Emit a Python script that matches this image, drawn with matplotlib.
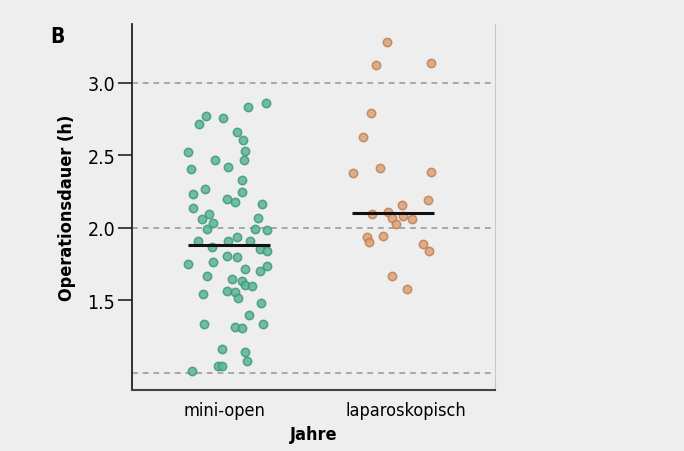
import numpy as np
import matplotlib.pyplot as plt

# condensed face, close to the narrow font of the original
plt.rcParams['font.family'] = ['DejaVu Sans']
plt.rcParams['font.stretch'] = 'condensed'

categories = ["mini-open", "laparoskopisch"]

# Operationsdauer (h)
mini_open = [2.862, 2.834, 2.772, 2.759, 2.717, 2.662, 2.607, 2.524, 2.531, 2.469,
             2.469, 2.421, 2.407, 2.331, 2.269, 2.234, 2.248, 2.200, 2.179, 2.166,
             2.138, 2.097, 2.069, 2.062, 2.034, 1.993, 1.993, 1.986, 1.910, 1.869,
             1.910, 1.938, 1.910, 1.855, 1.841, 1.807, 1.800, 1.752, 1.766, 1.717,
             1.738, 1.703, 1.669, 1.648, 1.634, 1.607, 1.600, 1.545, 1.566, 1.559,
             1.517, 1.483, 1.400, 1.338, 1.338, 1.317, 1.310, 1.166, 1.145, 1.083,
             1.048, 1.048, 1.014]
mini_open_jitter = [0.231, 0.132, -0.099, -0.005, -0.137, 0.071, 0.104, -0.198, 0.115, -0.049,
                    0.110, 0.022, -0.181, 0.099, -0.104, -0.170, 0.099, 0.016, 0.060, 0.209,
                    -0.170, -0.082, 0.187, -0.121, -0.060, -0.093, 0.170, 0.236, -0.143, -0.066,
                    0.022, 0.071, 0.143, 0.198, 0.236, 0.016, 0.071, -0.198, -0.060, 0.115,
                    0.236, 0.198, -0.093, 0.044, 0.099, 0.115, 0.154, -0.115, 0.016, 0.060,
                    0.077, 0.203, 0.137, -0.110, 0.214, 0.060, 0.099, -0.011, 0.115, 0.126,
                    -0.033, -0.011, -0.176]

laparo = [3.283, 3.124, 3.138, 2.793, 2.628, 2.379, 2.414, 2.386, 2.193, 2.159,
          2.097, 2.110, 2.069, 2.028, 2.083, 2.062, 1.938, 1.903, 1.945, 1.890,
          1.841, 1.669, 1.579]
laparo_jitter = [-0.104, -0.165, 0.137, -0.192, -0.236, -0.291, -0.143, 0.137, 0.121, -0.022,
                 -0.187, -0.099, -0.077, -0.055, -0.016, 0.033, -0.214, -0.203, -0.126, 0.093,
                 0.126, -0.077, 0.005]

means = [1.88, 2.10]
ref_lines = [1.0, 2.0, 3.0]

bg = "#eeeeee"
fig = plt.figure(figsize=(6.84, 4.52), dpi=100, facecolor=bg)
ax = fig.add_axes([0.193, 0.135, 0.531, 0.810], facecolor=bg)

for y in ref_lines:
    ax.axhline(y, color="#a8a8a8", lw=1.4, ls=(0, (3, 2.5)), zorder=1)

ax.scatter(0 + np.array(mini_open_jitter), mini_open, s=36, facecolor="#5cb497",
           edgecolor="#3d9a7a", lw=1.1, alpha=0.85, zorder=3)
ax.scatter(1 + np.array(laparo_jitter), laparo, s=36, facecolor="#dba27a",
           edgecolor="#c17f4f", lw=1.1, alpha=0.85, zorder=3)

# mean bars
ax.hlines(means[0], -0.198, 0.253, color="#111111", lw=2.2, zorder=4)
ax.hlines(means[1], 1 - 0.297, 1 + 0.154, color="#111111", lw=2.2, zorder=4)

ax.set_xlim(-0.505, 1.489)
ax.set_ylim(0.883, 3.407)
ax.set_xticks([0, 1])
ax.set_xticklabels(categories, fontsize=13)
ax.tick_params(axis="x", length=0, pad=8)
ax.set_yticks([1.5, 2.0, 2.5, 3.0])
ax.set_yticklabels(["1.5", "2.0", "2.5", "3.0"], fontsize=14)
ax.tick_params(axis="y", length=10, width=1.2, color="#222222", pad=2)

ax.spines["top"].set_visible(False)
ax.spines["left"].set_color("#222222")
ax.spines["left"].set_linewidth(1.3)
ax.spines["bottom"].set_color("#444444")
ax.spines["bottom"].set_linewidth(1.5)
ax.spines["right"].set_color("#c8c8c8")
ax.spines["right"].set_linewidth(0.8)

ax.set_ylabel("Operationsdauer (h)", fontsize=13, fontweight="bold", labelpad=8)
ax.set_xlabel("Jahre", fontsize=13, fontweight="bold", labelpad=4)
fig.text(0.074, 0.905, "B", fontsize=15, fontweight="bold")

fig.savefig("out.png", dpi=100, facecolor=bg)
